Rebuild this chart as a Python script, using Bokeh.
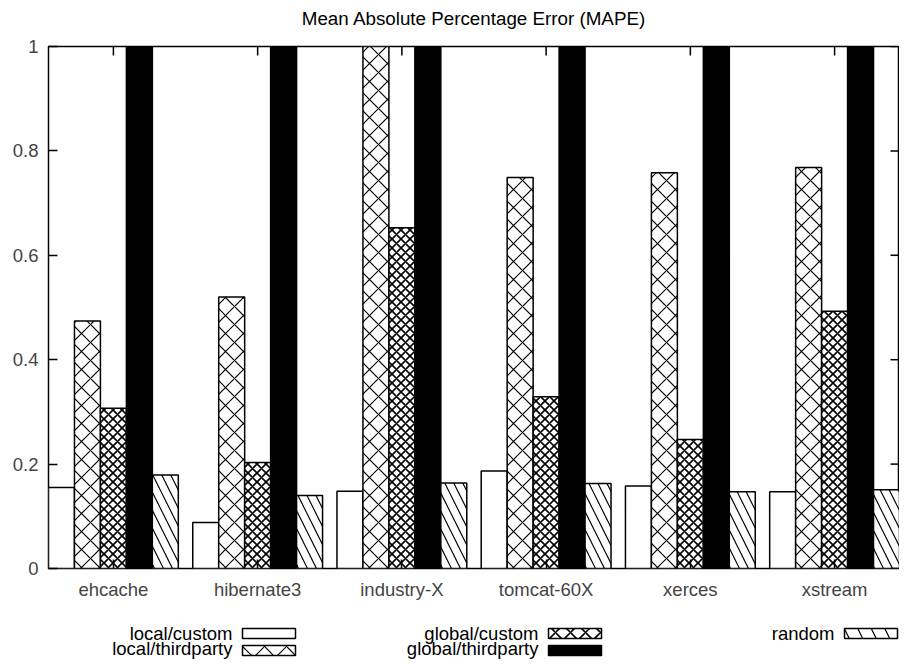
import math
from bokeh.plotting import figure
from bokeh.models import Range1d, FixedTicker, ColumnDataSource
from bokeh.layouts import column
from bokeh.embed import file_html
from bokeh.resources import INLINE
from bokeh.core.properties import value

# ---------------- data ----------------
categories = ["ehcache", "hibernate3", "industry-X", "tomcat-60X", "xerces", "xstream"]
series_names = ["local/custom", "local/thirdparty", "global/custom", "global/thirdparty", "random"]
local_custom = [0.155, 0.088, 0.148, 0.187, 0.158, 0.147]
local_thirdparty = [0.474, 0.520, 1.05, 0.749, 0.758, 0.768]
global_custom = [0.307, 0.203, 0.653, 0.329, 0.247, 0.493]
global_thirdparty = [1.3, 1.4, 1.6, 1.35, 1.3, 1.5]
random_vals = [0.179, 0.140, 0.164, 0.163, 0.147, 0.151]
y_ticks = [0, 0.2, 0.4, 0.6, 0.8, 1]
y_tick_labels = ["0", "0.2", "0.4", "0.6", "0.8", "1"]
title_text = "Mean Absolute Percentage Error (MAPE)"

FONT = "Liberation Sans"
FS = "18.5px"
W = 899
LEFT = 48
X_START, X_END = -0.45, 5.45
Y_START, Y_END = 0, 1

series_values = [local_custom, local_thirdparty, global_custom, global_thirdparty, random_vals]
styles = [
    dict(fill_color="white", hatch_pattern=" ", hatch_scale=9, hatch_weight=1.2),
    dict(fill_color="white", hatch_pattern="diagonal_cross", hatch_scale=18, hatch_weight=1.2),
    dict(fill_color="white", hatch_pattern="diagonal_cross", hatch_scale=9, hatch_weight=1.6),
    dict(fill_color="black", hatch_pattern=" ", hatch_scale=9, hatch_weight=1.2),
    dict(fill_color="white", hatch_pattern="left_diagonal_line", hatch_scale=18, hatch_weight=1.2),
]
bar_w = 0.18
offsets = [-2 * bar_w, -bar_w, 0.0, bar_w, 2 * bar_w]


def blank_fig(h):
    # the column layout aligns this strip's frame with the main plot frame (x = LEFT..W),
    # so the x range is given in page pixels over that span
    f = figure(width=W, height=h, x_range=Range1d(LEFT, W), y_range=Range1d(h, 0),
               output_backend="svg", toolbar_location=None, min_border=0,
               min_border_left=LEFT, x_axis_location=None, y_axis_location=None)
    f.xgrid.visible = False
    f.ygrid.visible = False
    f.outline_line_color = None
    f.background_fill_color = "white"
    f.border_fill_color = "white"
    return f


# ---------------- title strip ----------------
TITLE_H = 36
tf = blank_fig(TITLE_H)
tf.text(x=[(LEFT + W) / 2], y=[18], text=[title_text], text_align="center", text_baseline="middle",
        text_font=value(FONT), text_font_size="18.8px", text_color="black")

# ---------------- main plot ----------------
p = figure(width=W, height=566, x_range=Range1d(X_START, X_END), y_range=Range1d(Y_START, Y_END),
           output_backend="svg", toolbar_location=None,
           min_border_left=LEFT, min_border_right=0, min_border_top=10, min_border_bottom=34)
p.xgrid.visible = False
p.ygrid.visible = False
p.outline_line_color = "black"
p.outline_line_width = 1.5
p.background_fill_color = "white"
p.border_fill_color = "white"

x_idx = list(range(len(categories)))
for vals, st, off in zip(series_values, styles, offsets):
    src = ColumnDataSource(dict(x=[i + off for i in x_idx], top=vals))
    p.vbar(x="x", top="top", bottom=0, width=bar_w, source=src,
           line_color="black", line_width=1.5, hatch_color="black", **st)

# mirrored ticks on the right and top edges (half of each dash is clipped by the frame)
p.scatter(x=[X_END] * len(y_ticks), y=y_ticks, marker="dash", size=18,
          line_color="black", line_width=1.5)
p.scatter(x=x_idx, y=[Y_END] * len(x_idx), marker="dash", size=18, angle=math.pi / 2,
          line_color="black", line_width=1.5)

yax = p.yaxis[0]
yax.ticker = FixedTicker(ticks=y_ticks)
yax.major_label_overrides = {t: l for t, l in zip(y_ticks, y_tick_labels)}
xax = p.xaxis[0]
xax.ticker = FixedTicker(ticks=x_idx)
xax.major_label_overrides = {i: c for i, c in zip(x_idx, categories)}
for ax in (xax, yax):
    ax.major_label_text_font = FONT
    ax.major_label_text_font_size = FS
    ax.major_tick_in = 9
    ax.major_tick_out = 0
    ax.minor_tick_line_color = None
    ax.axis_line_color = None
    ax.major_tick_line_width = 1.5
    ax.major_label_standoff = 10

# ---------------- legend strip ----------------
LEG_H = 57
leg = blank_fig(LEG_H)
col_text_right = [232, 538, 834]
col_box_left = [242, 548, 844]
row_text_y = [31, 46]
row_box_y = [31, 48]
box_w = 53
box_h = 10
leg_pos = [(0, 0), (0, 1), (1, 0), (1, 1), (2, 0)]
leg_scales = [13, 22, 15, 13, 27]
for name, st, (c, r), sc in zip(series_names, styles, leg_pos, leg_scales):
    st2 = dict(st)
    st2["hatch_scale"] = sc
    leg.rect(x=[col_box_left[c] + box_w / 2], y=[row_box_y[r]], width=box_w, height=box_h,
             line_color="black", line_width=1.5, hatch_color="black", **st2)
    leg.text(x=[col_text_right[c]], y=[row_text_y[r]], text=[name], text_align="right",
             text_baseline="middle", text_font=value(FONT), text_font_size=FS, text_color="black")

layout = column(tf, p, leg, spacing=0)
open("out.html", "w").write(file_html(layout, INLINE))
